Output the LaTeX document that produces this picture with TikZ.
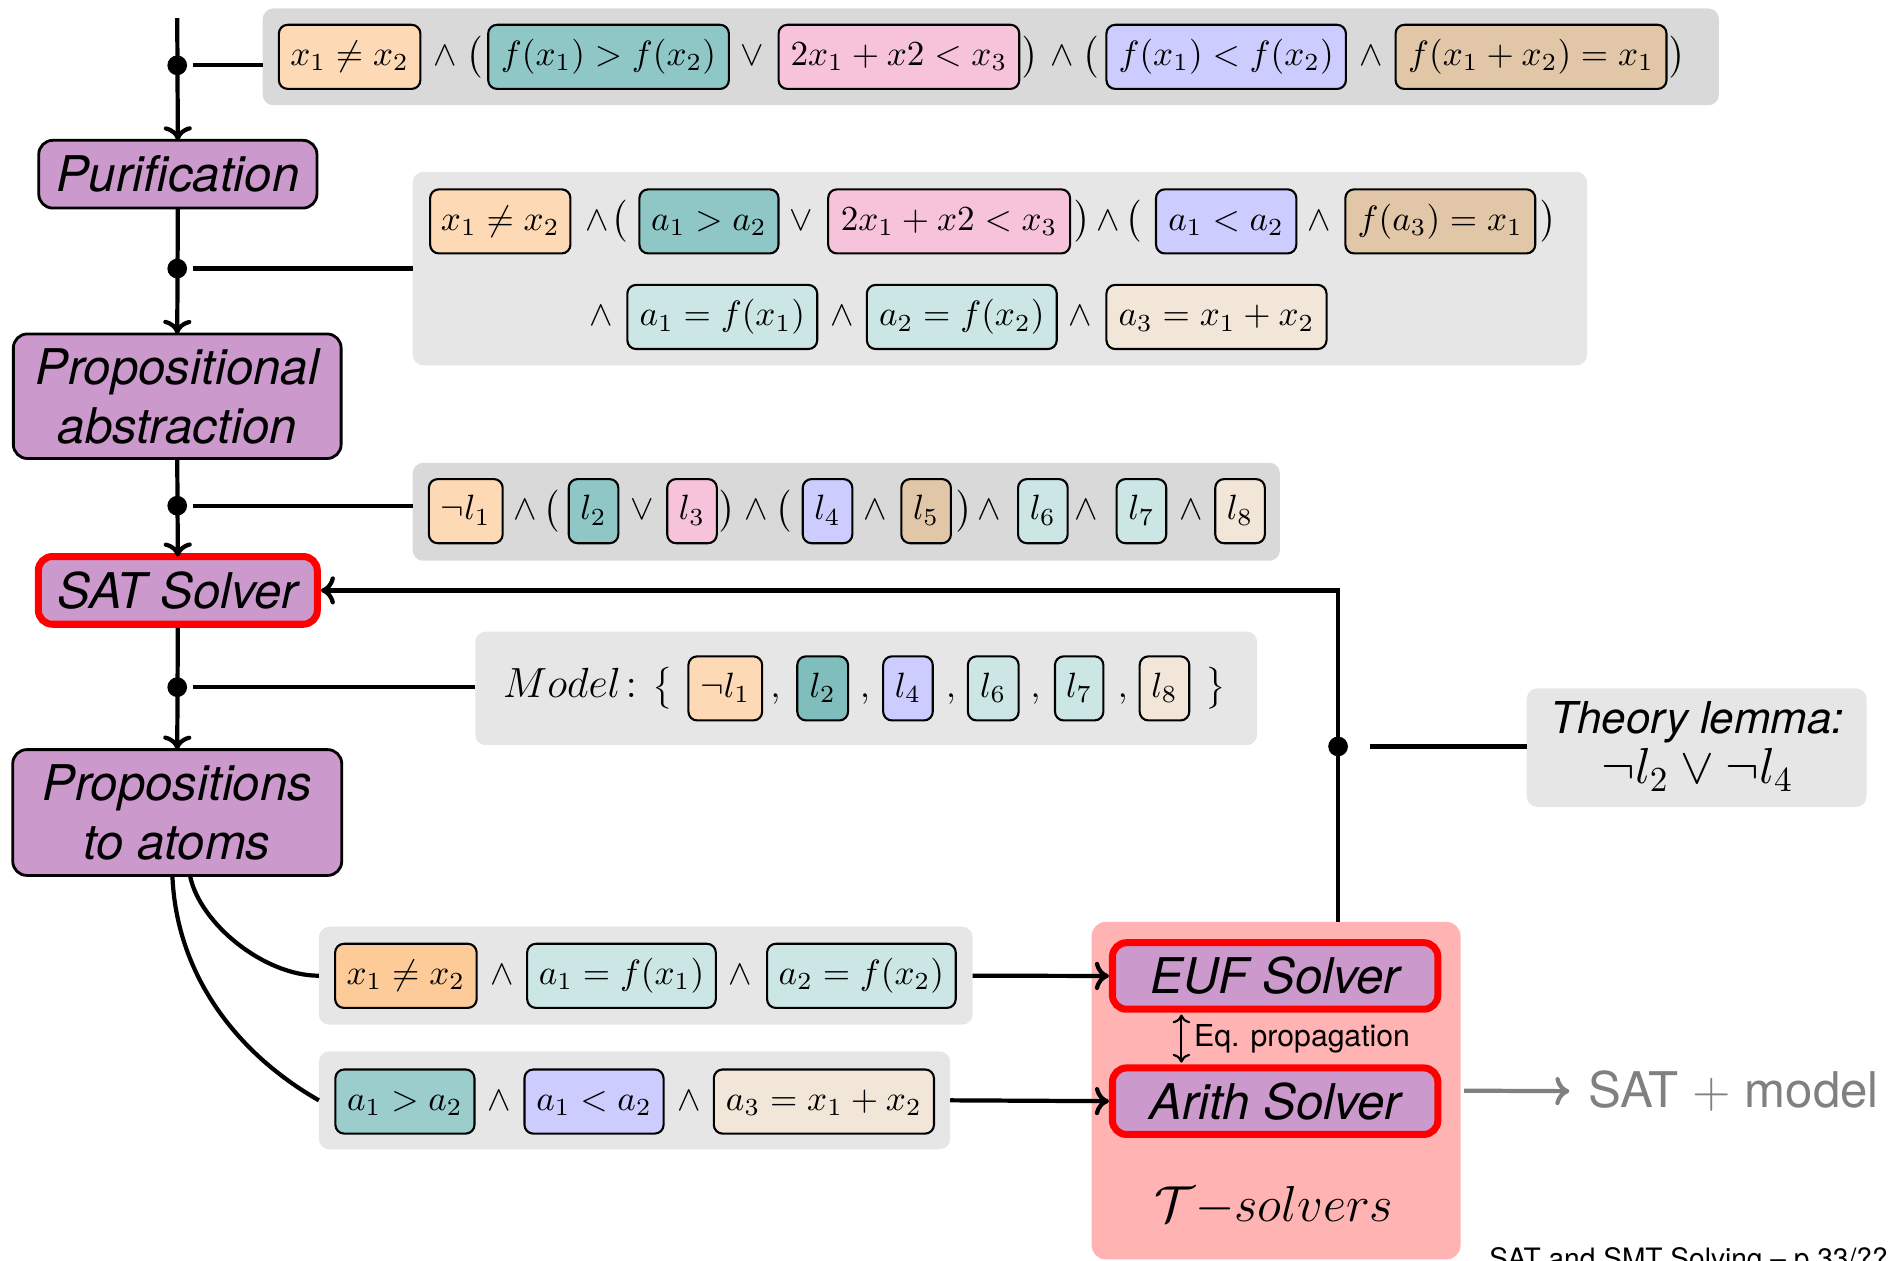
\documentclass[tikz,border=0pt]{standalone}
\usepackage{amsmath}
\usepackage{fontspec}
\newfontfamily\hv{TeX Gyre Heros}
\usetikzlibrary{arrows.meta,calc}
\def\PXU{0.3442pt}
\newcommand\mfs{\fontsize{10}{12}\selectfont}
\newcommand\bigsf{\hv\itshape\fontsize{14}{16.8}\selectfont}
\definecolor{gA}{HTML}{D9D9D9}
\definecolor{gB}{HTML}{E6E6E6}
\definecolor{cPeach}{HTML}{FDD9B5}
\definecolor{cOrange}{HTML}{FDCB98}
\definecolor{cTeal}{HTML}{8FC7C7}
\definecolor{cTealD}{HTML}{80BDBD}
\definecolor{cTealL}{HTML}{9BCDCD}
\definecolor{cPink}{HTML}{F7C3DB}
\definecolor{cLav}{HTML}{CCCCFF}
\definecolor{cTan}{HTML}{E2C6A8}
\definecolor{cCyan}{HTML}{CCE6E6}
\definecolor{cCream}{HTML}{F2E6D9}
\definecolor{purp}{HTML}{CC99CC}
\definecolor{tsp}{HTML}{FFB3B3}
\definecolor{gtxt}{HTML}{808080}
\begin{document}
\begin{tikzpicture}[x=0.012098cm, y=-0.012098cm,
  every node/.style={inner sep=0pt, outer sep=0pt},
  wh/.style 2 args={minimum width=#1*\PXU, minimum height=#2*\PXU},
  cw/.style={minimum width=#1*\PXU},
  conn/.style={line width=1.2pt},
  arr/.style={-{Computer Modern Rightarrow[length=4pt,width=8pt]}},
  eqarr/.style={{Computer Modern Rightarrow[length=2.5pt,width=5pt]}-{Computer Modern Rightarrow[length=2.5pt,width=5pt]}},
  dotn/.style={circle, fill=black, minimum size=5.6pt},
  gboxa/.style={fill=gA, rounded corners=3pt},
  gboxb/.style={fill=gB, rounded corners=3pt},
  cbox/.style={draw=black, line width=0.6pt, rounded corners=2.5pt, minimum height=53*\PXU, text height=7.5pt, text depth=2.5pt, font=\mfs},
  op/.style={text height=7.5pt, text depth=2.5pt, font=\mfs},
  proc/.style={fill=purp, draw=black, line width=0.8pt, rounded corners=4pt, font=\bigsf, align=center},
  rproc/.style={proc, draw=red, line width=2pt}]
\clip (0,0) rectangle (1568,1041.5);

% ---------- gray formula boxes ----------
\node[gboxa, wh={1204}{80}] (g1) at (819,47) {};
\node[gboxb, wh={971}{160}] (g2) at (826.5,222) {};
\node[gboxa, wh={717}{81}] (g3) at (699.5,423) {};
\node[gboxb, wh={646.5}{94}] (g4) at (716,569) {};
\node[gboxb, wh={281}{98}] (tl) at (1402.4,618) {};
\node[gboxb, wh={540.5}{81}] (g5) at (533.7,806.5) {};
\node[gboxb, wh={522}{81}] (g6) at (524.5,909.5) {};

% ---------- row 1 ----------
\node[cbox, fill=cPeach, cw=117] (a1) at (289,47) {$x_1\neq x_2$};
\node[op] (o11) at (368,47) {$\wedge$};
\node[op] (o12) at (392,47) {$\bigl($};
\node[cbox, fill=cTeal, cw=199] (a2) at (503,47) {$f(x_1)>f(x_2)$};
\node[op] (o13) at (622,47) {$\vee$};
\node[cbox, fill=cPink, cw=199] (a3) at (743,47) {$2x_1+x2<x_3$};
\node[op] (o14) at (852,47) {$\bigr)$};
\node[op] (o15) at (878,47) {$\wedge$};
\node[op] (o16) at (901,47) {$\bigl($};
\node[cbox, fill=cLav, cw=198] (a4) at (1013.5,47) {$f(x_1)<f(x_2)$};
\node[op] (o17) at (1133,47) {$\wedge$};
\node[cbox, fill=cTan, cw=224] (a5) at (1265.5,47) {$f(x_1+x_2)=x_1$};
\node[op] (o18) at (1387,47) {$\bigr)$};

% ---------- row 2 ----------
\node[cbox, fill=cPeach, cw=116] (b1) at (413.5,183) {$x_1\neq x_2$};
\node[op] (o21) at (494,183) {$\wedge$};
\node[op] (o22) at (512,183) {$\bigl($};
\node[cbox, fill=cTeal, cw=115] (b2) at (586,183) {$a_1>a_2$};
\node[op] (o23) at (662,183) {$\vee$};
\node[cbox, fill=cPink, cw=200] (b3) at (784.5,183) {$2x_1+x2<x_3$};
\node[op] (o24) at (895,183) {$\bigr)$};
\node[op] (o25) at (916,183) {$\wedge$};
\node[op] (o26) at (937,183) {$\bigl($};
\node[cbox, fill=cLav, cw=116] (b4) at (1013.5,183) {$a_1<a_2$};
\node[op] (o27) at (1090,183) {$\wedge$};
\node[cbox, fill=cTan, cw=157] (b5) at (1190.5,183) {$f(a_3)=x_1$};
\node[op] (o28) at (1280,183) {$\bigr)$};
\node[op] (o29) at (497,262) {$\wedge$};
\node[cbox, fill=cCyan, cw=157] (b6) at (597,262) {$a_1=f(x_1)$};
\node[op] (o2a) at (696,262) {$\wedge$};
\node[cbox, fill=cCyan, cw=157] (b7) at (795,262) {$a_2=f(x_2)$};
\node[op] (o2b) at (893,262) {$\wedge$};
\node[cbox, fill=cCream, cw=182] (b8) at (1005.5,262) {$a_3=x_1+x_2$};

% ---------- row 3 ----------
\node[cbox, fill=cPeach, cw=61] (l1) at (385,422.5) {$\neg l_1$};
\node[op] (o31) at (434,422.5) {$\wedge$};
\node[op] (o32) at (455.5,422.5) {$\bigl($};
\node[cbox, fill=cTeal, cw=41] (l2) at (490.6,422.5) {$l_2$};
\node[op] (o33) at (531,422.5) {$\vee$};
\node[cbox, fill=cPink, cw=41] (l3) at (572,422.5) {$l_3$};
\node[op] (o34) at (601.7,422.5) {$\bigr)$};
\node[op] (o35) at (625,422.5) {$\wedge$};
\node[op] (o36) at (647.6,422.5) {$\bigl($};
\node[cbox, fill=cLav, cw=41] (l4) at (684,422.5) {$l_4$};
\node[op] (o37) at (723,422.5) {$\wedge$};
\node[cbox, fill=cTan, cw=41] (l5) at (765.5,422.5) {$l_5$};
\node[op] (o38) at (797,422.5) {$\bigr)$};
\node[op] (o39) at (818,422.5) {$\wedge$};
\node[cbox, fill=cCyan, cw=41] (l6) at (862,422.5) {$l_6$};
\node[op] (o3a) at (898,422.5) {$\wedge$};
\node[cbox, fill=cCyan, cw=41] (l7) at (943.5,422.5) {$l_7$};
\node[op] (o3b) at (985,422.5) {$\wedge$};
\node[cbox, fill=cCream, cw=41] (l8) at (1025,422.5) {$l_8$};

% ---------- model row ----------
\node[op, font=\fontsize{12}{14}\selectfont] (mlab) at (477,569) {$Model\colon$};
\node[op] (mo1) at (547.5,569) {$\bigl\{$};
\node[cbox, fill=cPeach, cw=61] (m1) at (599.5,569) {$\neg l_1$};
\node[op] (mc1) at (641,569) {$,$};
\node[cbox, fill=cTealD, cw=42] (m2) at (680,569) {$l_2$};
\node[op] (mc2) at (715,569) {$,$};
\node[cbox, fill=cLav, cw=41] (m3) at (750.5,569) {$l_4$};
\node[op] (mc3) at (786,569) {$,$};
\node[cbox, fill=cCyan, cw=42] (m4) at (821,569) {$l_6$};
\node[op] (mc4) at (856,569) {$,$};
\node[cbox, fill=cCyan, cw=40] (m5) at (892,569) {$l_7$};
\node[op] (mc5) at (928,569) {$,$};
\node[cbox, fill=cCream, cw=41] (m6) at (962.5,569) {$l_8$};
\node[op] (mo2) at (1005,569) {$\bigr\}$};

% ---------- theory lemma ----------
\node[anchor=base, font=\hv\itshape\fontsize{12.5}{15}\selectfont] (tl1) at (1403,606.5) {Theory lemma:};
\node[anchor=base, font=\fontsize{14.4}{16}\selectfont] (tl2) at (1403,648) {$\neg l_2\vee\neg l_4$};

% ---------- bottom rows ----------
\node[cbox, fill=cOrange, cw=117] (c1) at (335.5,806.6) {$x_1\neq x_2$};
\node[op] (o51) at (415,806.6) {$\wedge$};
\node[cbox, fill=cCyan, cw=156] (c2) at (513.7,806.6) {$a_1=f(x_1)$};
\node[op] (o52) at (611.5,806.6) {$\wedge$};
\node[cbox, fill=cCyan, cw=156] (c3) at (712,806.6) {$a_2=f(x_2)$};

\node[cbox, fill=cTealL, cw=115] (e1) at (334.7,910.5) {$a_1>a_2$};
\node[op] (o61) at (412.7,910.5) {$\wedge$};
\node[cbox, fill=cLav, cw=115] (e2) at (491,910.5) {$a_1<a_2$};
\node[op] (o62) at (569.3,910.5) {$\wedge$};
\node[cbox, fill=cCream, cw=182] (e3) at (681,910.5) {$a_3=x_1+x_2$};

% ---------- T-solvers ----------
\node[fill=tsp, rounded corners=4pt, wh={305}{279}] (ts) at (1054.75,901.5) {};
\node[rproc, wh={269}{55}] (euf) at (1054,806.7) {EUF Solver};
\node[rproc, wh={269}{55}] (arith) at (1054,910.2) {Arith Solver};
\node[anchor=base, font=\fontsize{14.4}{16}\selectfont] (tsl) at (1053,1010) {$\mathcal{T}{-}solvers$};
\node[anchor=base west, font=\hv\fontsize{8.6}{10}\selectfont] (eql) at (987,865.2) {Eq. propagation};
\coordinate (eqx) at (976.5,850);
\draw[line width=0.6pt, eqarr, shorten <=1.5pt, shorten >=1.5pt] (eqx |- euf.south) -- (eqx |- arith.north);

\node[font=\hv\fontsize{14}{16.8}\selectfont, text=gtxt] (sm) at (1433,902) {SAT {\color{gtxt}$+$} model};
\draw[conn, draw=gtxt, arr, shorten <=1pt, shorten >=5.5pt] (ts.east) -- (sm.west);

\node[anchor=base west, font=\hv\fontsize{8}{9.6}\selectfont] (foot) at (1231,1048.3) {SAT and SMT Solving – p.33/??};

% ---------- process boxes ----------
\node[proc, wh={230}{56}] (pur) at (147,144) {Purification};
\node[proc, wh={271}{103}] (prop) at (146.5,327.5) {Propositional\\abstraction};
\node[rproc, wh={230.6}{56}] (sat) at (147,488) {SAT Solver};
\node[proc, wh={272}{104}] (atoms) at (146.5,671.6) {Propositions\\to atoms};

% ---------- dots ----------
\coordinate (start) at (146.5,15);
\node[dotn] (d1) at (146.5,54) {};
\node[dotn] (d2) at (146.5,222) {};
\node[dotn] (d3) at (146.5,418) {};
\node[dotn] (d4) at (146.5,568) {};
\node[dotn] (d5) at (1106,617) {};
\coordinate (fbc) at (1106,488);

% ---------- connectors ----------
\draw[conn, arr] (start) -- (pur.north);
\draw[conn, arr] (pur.south) -- (prop.north);
\draw[conn, arr] (prop.south) -- (sat.north);
\draw[conn, arr, shorten <=1pt] (sat.south) -- (atoms.north);

\draw[conn] ($(d1)+(13,0)$) -- (d1 -| g1.west);
\draw[conn] ($(d2)+(13,0)$) -- (d2 -| g2.west);
\draw[conn] ($(d3)+(13,0)$) -- (d3 -| g3.west);
\draw[conn] ($(d4)+(13,0)$) -- (d4 -| g4.west);
\draw[conn] ($(d5)+(26,0)$) -- (d5 -| tl.west);

\draw[conn, arr, shorten >=1pt] (fbc |- ts.north) -- (fbc) -- (sat.east);

\coordinate (s1) at ($(atoms.south)+(10.5,0)$);
\coordinate (s2) at ($(atoms.south)+(-4,0)$);
\draw[conn] (s1) .. controls ($(s1)+(8,40)$) and ($(g5.west)+(-45,0)$) .. (g5.west);
\draw[conn] (s2) .. controls ($(s2)+(3,80)$) and ($(g6.west)+(-70,-40)$) .. (g6.west);

\draw[conn, arr, shorten >=1pt] (g5.east) -- (euf.west);
\draw[conn, arr, shorten >=1pt] (g6.east) -- (arith.west);
\end{tikzpicture}
\end{document}
